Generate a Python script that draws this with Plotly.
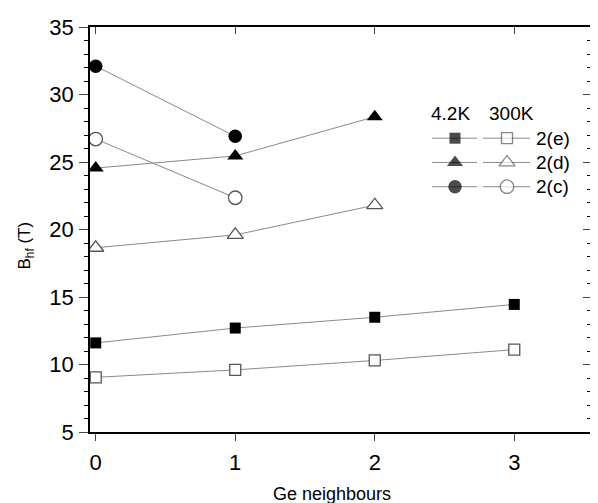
import plotly.graph_objects as go

# ---- data ----
neighbours = [0, 1, 2, 3]
e_42K = [11.6, 12.7, 13.5, 14.45]
e_300K = [9.05, 9.6, 10.3, 11.1]
d_42K = [24.55, 25.45, 28.35]
d_300K = [18.65, 19.6, 21.8]
c_42K = [32.1, 26.9]
c_300K = [26.7, 22.35]
series_labels = ["2(e)", "2(d)", "2(c)"]
temp_labels = ["4.2K", "300K"]
x_ticks = [0, 1, 2, 3]
y_ticks = [5, 10, 15, 20, 25, 30, 35]

LINE = "#8a8a8a"
OPEN = "#555555"
FONT = "Liberation Sans, Arial, sans-serif"

fig = go.Figure()

def add_series(y, symbol, filled, size):
    x = neighbours[:len(y)]
    fig.add_trace(go.Scatter(
        x=x, y=y, mode="lines+markers",
        line=dict(color=LINE, width=1),
        marker=dict(symbol=symbol, size=size,
                    color="black" if filled else "white",
                    line=dict(color="black" if filled else OPEN, width=0 if filled else 1.3)),
        showlegend=False, hoverinfo="skip"))

add_series(e_42K, "square", True, 11)
add_series(e_300K, "square", False, 11)
add_series(d_42K, "triangle-up", True, 14)
add_series(d_300K, "triangle-up", False, 14)
add_series(c_42K, "circle", True, 13.5)
add_series(c_300K, "circle", False, 13.5)

# mirror axes (ticks inside on top/right)
fig.add_trace(go.Scatter(x=[None], y=[None], xaxis="x2", yaxis="y2", showlegend=False))

# ---- custom legend on a pixel-like helper axis (window pixel coordinates) ----
fig.add_trace(go.Scatter(x=[None], y=[None], xaxis="x3", yaxis="y3", showlegend=False))
rows_y = [135, 159.5, 184]
syms = [("square", 11), ("triangle-up", 14), ("circle", 13.5)]
for ry, (s, sz), lab in zip(rows_y, syms, series_labels):
    fig.add_trace(go.Scatter(
        x=[432, 455, 477], y=[ry, ry, ry], xaxis="x3", yaxis="y3",
        mode="lines+markers", line=dict(color=LINE, width=1),
        marker=dict(symbol=s, size=[0, sz, 0], color="black", line=dict(width=0)),
        showlegend=False, hoverinfo="skip"))
    fig.add_trace(go.Scatter(
        x=[483, 507, 530], y=[ry, ry, ry], xaxis="x3", yaxis="y3",
        mode="lines+markers", line=dict(color=LINE, width=1),
        marker=dict(symbol=s, size=[0, sz, 0], color="white",
                    line=dict(color=OPEN, width=1.3)),
        showlegend=False, hoverinfo="skip"))
    fig.add_annotation(x=534, y=ry, xref="x3", yref="y3", text=lab, showarrow=False,
                       xanchor="left", yanchor="middle", font=dict(size=19, family=FONT, color="black"))

fig.add_annotation(x=450, y=110, xref="x3", yref="y3", text=temp_labels[0], showarrow=False,
                   xanchor="center", yanchor="middle", font=dict(size=19, family=FONT, color="black"))
fig.add_annotation(x=511, y=110, xref="x3", yref="y3", text=temp_labels[1], showarrow=False,
                   xanchor="center", yanchor="middle", font=dict(size=19, family=FONT, color="black"))

# axis titles
fig.add_annotation(x=-0.128, y=0.46, xref="paper", yref="paper", text="B<sub>hf</sub> (T)",
                   textangle=-90, showarrow=False, xanchor="center", yanchor="middle",
                   font=dict(size=17, family=FONT, color="black"))
fig.add_annotation(x=0.483, y=-0.152, xref="paper", yref="paper", text="Ge neighbours",
                   showarrow=False, xanchor="center", yanchor="middle",
                   font=dict(size=18, family=FONT, color="black"))

XR = [-0.041, 3.55]
YR = [5, 35]

# page body has an 8px margin: shift the figure so the plot area lands at x 90..591, y 22.7..431.7
fig.update_layout(
    width=590, height=495,
    margin=dict(l=82, r=7, t=14.7, b=71.3),
    paper_bgcolor="white", plot_bgcolor="white",
    font=dict(family=FONT, color="black"),
    xaxis=dict(range=XR, tickvals=x_ticks, ticks="outside", ticklen=7, tickwidth=1.3,
               showline=True, linecolor="black", linewidth=1.5, showgrid=False, zeroline=False,
               tickfont=dict(size=22), ticklabelstandoff=3),
    yaxis=dict(range=YR, tickvals=y_ticks, ticks="outside", ticklen=9, tickwidth=1.3,
               showline=True, linecolor="black", linewidth=1.5, showgrid=False, zeroline=False,
               tickfont=dict(size=22), ticklabelstandoff=1,
               minor=dict(dtick=1, ticks="outside", ticklen=4, tickwidth=1, tickcolor="black")),
    xaxis2=dict(range=XR, overlaying="x", side="top", anchor="y", tickvals=x_ticks,
                ticks="inside", ticklen=7, tickwidth=1.3, showticklabels=False,
                showline=True, linecolor="black", linewidth=1.5, showgrid=False, zeroline=False),
    yaxis2=dict(range=YR, overlaying="y", side="right", anchor="x", tickvals=y_ticks,
                ticks="inside", ticklen=8, tickwidth=1.3, showticklabels=False,
                showline=True, linecolor="black", linewidth=1.5, showgrid=False, zeroline=False,
                minor=dict(dtick=1, ticks="inside", ticklen=4, tickwidth=1, tickcolor="black")),
    xaxis3=dict(range=[90, 591], overlaying="x", anchor="y3", visible=False, fixedrange=True),
    yaxis3=dict(range=[431.7, 22.7], overlaying="y", anchor="x3", visible=False, fixedrange=True),
)

fig.write_html("out.html")
